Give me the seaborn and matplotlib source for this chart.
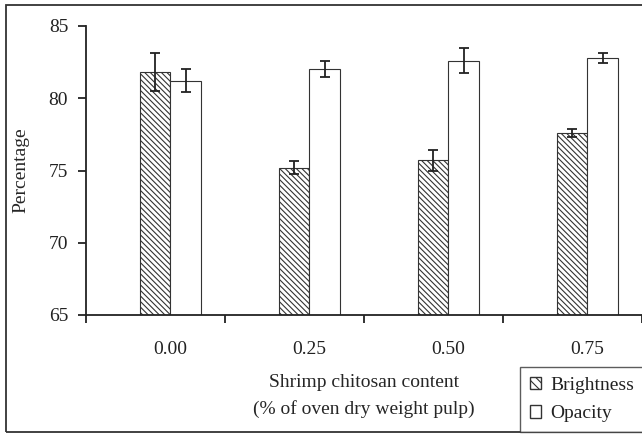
import matplotlib
matplotlib.use("Agg")
import matplotlib.pyplot as plt
import matplotlib.patches as mpatches
import numpy as np
import pandas as pd
import seaborn as sns

# data
content = ["0.00", "0.25", "0.50", "0.75"]
brightness = [81.8, 75.2, 75.7, 77.6]
brightness_err = [1.3, 0.45, 0.73, 0.25]
opacity = [81.2, 82.0, 82.6, 82.8]
opacity_err = [0.8, 0.55, 0.88, 0.35]

df = pd.DataFrame({
    "content": content * 2,
    "value": brightness + opacity,
    "series": ["Brightness"] * 4 + ["Opacity"] * 4,
})

sns.set_style("white")
plt.rcParams["font.family"] = ["Liberation Serif", "DejaVu Serif"]
plt.rcParams["font.size"] = 14
plt.rcParams["xtick.labelsize"] = 14
plt.rcParams["ytick.labelsize"] = 14
plt.rcParams["axes.labelsize"] = 14
plt.rcParams["text.color"] = "#222222"
plt.rcParams["hatch.linewidth"] = 0.8
plt.rcParams["hatch.color"] = "#333333"

fig = plt.figure(figsize=(6.42, 4.34), dpi=100)
ax = fig.add_axes([86 / 642, 119 / 434, 556 / 642, 289 / 434])

sns.barplot(data=df, x="content", y="value", hue="series",
            palette=["white", "white"], edgecolor="#333333", linewidth=0.8,
            width=0.443, gap=0, legend=False, ax=ax)

errs = [brightness_err, opacity_err]
vals = [brightness, opacity]
bar_groups = list(ax.containers)
for k, cont in enumerate(bar_groups):
    xs = []
    for p in cont.patches:
        if k == 0:
            p.set_hatch("\\\\\\\\\\\\")
        xs.append(p.get_x() + p.get_width() / 2)
    ax.errorbar(xs, vals[k], yerr=errs[k], fmt="none", ecolor="#222222",
                elinewidth=1.3, capsize=3.5, capthick=1.3, zorder=5)

ax.set_ylim(65, 85)
ax.set_yticks([65, 70, 75, 80, 85])
ax.set_xlim(-0.607, 3.364)
ax.set_xticks(np.arange(5) - 0.607, minor=True)
ax.tick_params(axis="x", which="major", length=0, pad=19, labelcolor="#222222")
ax.tick_params(axis="x", which="minor", length=5.8, width=1.3, direction="out",
               bottom=True, color="#222222")
ax.tick_params(axis="y", length=5.8, width=1.3, direction="out", left=True,
               pad=7, color="#222222", labelcolor="#222222")

for s in ["top", "right"]:
    ax.spines[s].set_visible(False)
for s in ["left", "bottom"]:
    ax.spines[s].set_color("#222222")
    ax.spines[s].set_linewidth(1.3)

ax.set_xlabel("Shrimp chitosan content\n(% of oven dry weight pulp)",
              linespacing=1.65, labelpad=11)
ax.set_ylabel("Percentage", labelpad=14)

# frame around the whole picture
fig.add_artist(mpatches.Rectangle((6 / 642, 2 / 434), 1.0, 427 / 434,
                                  transform=fig.transFigure, fill=False,
                                  edgecolor="#333333", linewidth=1.3))

handles = [
    mpatches.Patch(facecolor="white", edgecolor="#333333", hatch="\\\\\\\\",
                   label="Brightness"),
    mpatches.Patch(facecolor="white", edgecolor="#333333", label="Opacity"),
]
leg = fig.legend(handles=handles, loc="lower left",
                 bbox_to_anchor=(520 / 642, 2 / 434), frameon=True,
                 fancybox=False, edgecolor="#333333", handlelength=0.6,
                 handleheight=0.6, handletextpad=0.45, borderpad=0.5,
                 labelspacing=0.6, borderaxespad=0, fontsize=14)
leg.get_frame().set_linewidth(1.0)

fig.savefig("out.png", dpi=100)
